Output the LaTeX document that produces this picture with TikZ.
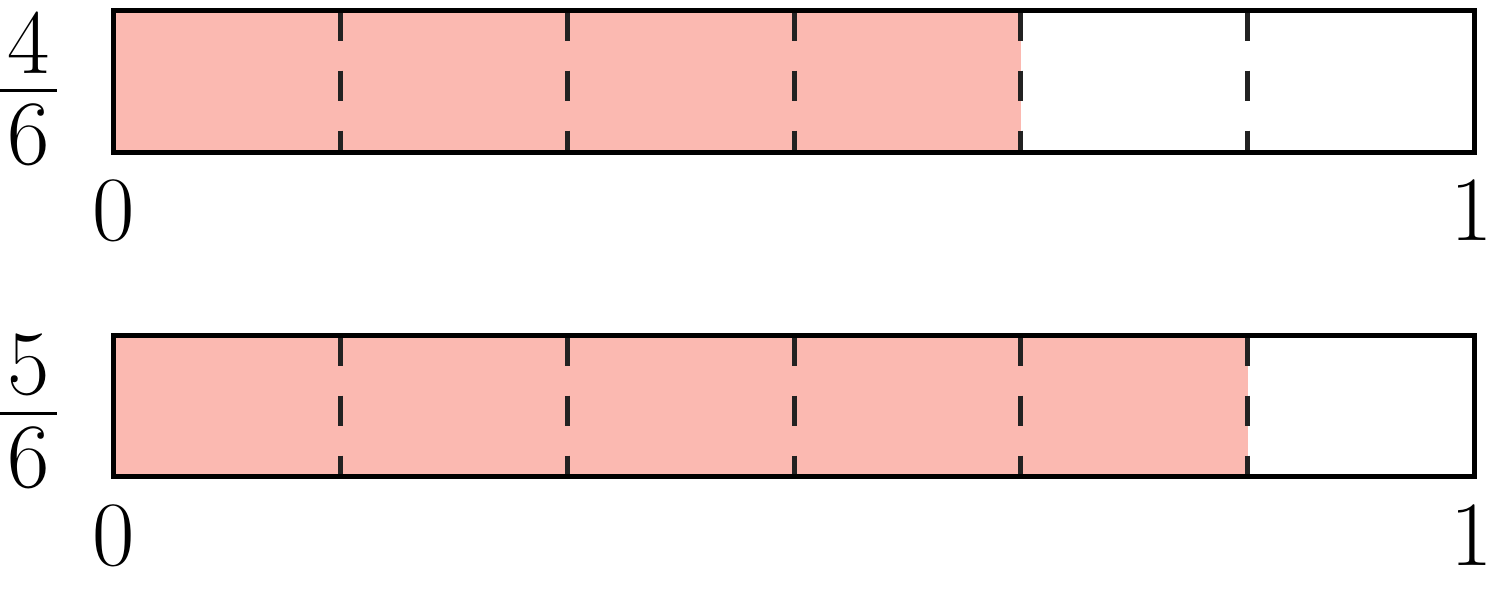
\documentclass[tikz,border=0pt]{standalone}
\definecolor{barfill}{RGB}{251,185,177}
\definecolor{dashgray}{RGB}{34,34,34}
\tikzset{
  frame/.style={draw=black,line width=2.5pt},
  divider/.style={draw=dashgray,line width=2.5pt,dash pattern=on 15pt off 15pt},
  shade/.style={fill=barfill},
  lbl/.style={inner sep=0pt,outer sep=0pt,anchor=base,font=\fontsize{46}{55}\selectfont},
}
\newcommand{\barfrac}[1]{\vbox{\offinterlineskip
  \hbox to 28.5pt{\hss#1\hss}\kern7.75pt
  \hrule height 1.5pt\kern5.75pt
  \hbox to 28.5pt{\hss6\hss}}}
\begin{document}
\begin{tikzpicture}[x=0.5pt,y=-0.5pt]
\useasboundingbox (0,0) rectangle (1492,590);
\foreach \t/\b/\k/\r/\lb/\i in {10.5/152/4/164/240/a, 335.5/476.5/5/487/565/b}{
  \coordinate (tl\i) at (113.5,\t);
  \coordinate (br\i) at (1474.5,\b);
  \path[shade] (tl\i) rectangle ({113.5+\k*226.833},\b);
  \foreach \j in {1,...,5}{
    \coordinate (dt\i\j) at ({113.5+\j*226.833},\t);
    \coordinate (db\i\j) at ({113.5+\j*226.833},\b);
    \draw[divider] (dt\i\j) -- (db\i\j);
  }
  \draw[frame] (tl\i) rectangle (br\i);
  \node[lbl] (frac\i) at (28.5,\r) {\barfrac{\k}};
  \node[lbl] (zero\i) at (113.5,\lb) {0};
  \node[lbl] (one\i) at (1472,\lb) {1};
}
\end{tikzpicture}
\end{document}
